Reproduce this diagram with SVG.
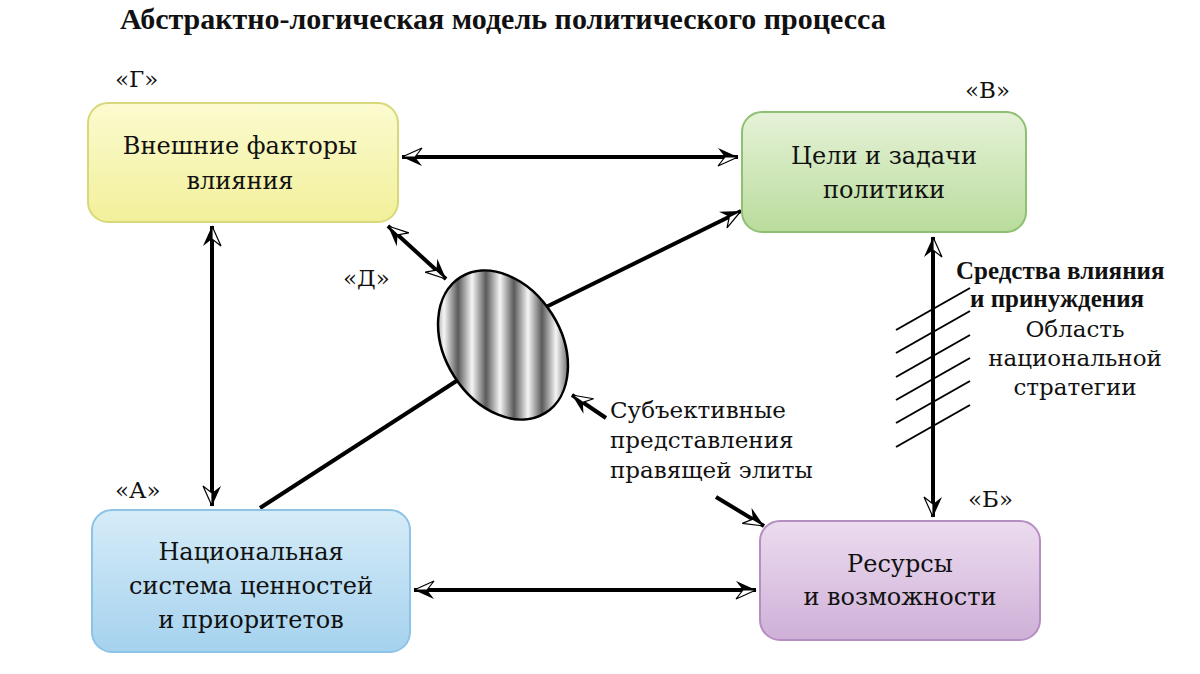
<svg xmlns="http://www.w3.org/2000/svg" width="1200" height="674" viewBox="0 0 1200 674">
<defs>
<style>
text{font-family:'DejaVu Serif','Liberation Serif',serif;fill:#111}
.t{font-size:24px;text-anchor:middle}
.l{font-size:23px}
.c{stroke:#000;stroke-width:4;fill:none}
.h{stroke:#000;stroke-width:2}
</style>
<marker id="a" viewBox="-22 -10 24 20" refX="0" refY="0" markerWidth="24" markerHeight="20" markerUnits="userSpaceOnUse" orient="auto-start-reverse">
<path d="M0,0 L-20,-9 L-13,0 Z" fill="#000"/>
<path d="M0,0 L-20,9 L-13,0 Z" fill="#fff" stroke="#000" stroke-width="1.2"/>
</marker>
<linearGradient id="gy" x1="0" y1="0" x2="0" y2="1"><stop offset="0" stop-color="#fbfbd0"/><stop offset="1" stop-color="#f2f09a"/></linearGradient>
<linearGradient id="gg" x1="0" y1="0" x2="0" y2="1"><stop offset="0" stop-color="#e6f2d8"/><stop offset="1" stop-color="#b9dc9c"/></linearGradient>
<linearGradient id="gb" x1="0" y1="0" x2="0" y2="1"><stop offset="0" stop-color="#d6ecf8"/><stop offset="1" stop-color="#a5d2ee"/></linearGradient>
<linearGradient id="gp" x1="0" y1="0" x2="0" y2="1"><stop offset="0" stop-color="#ecdcef"/><stop offset="1" stop-color="#cfb0d8"/></linearGradient>
<linearGradient id="st" gradientUnits="userSpaceOnUse" x1="430" y1="0" x2="458" y2="0" spreadMethod="repeat">
<stop offset="0" stop-color="#5a5a5a"/><stop offset="0.5" stop-color="#f5f5f5"/><stop offset="1" stop-color="#5a5a5a"/>
</linearGradient>
<clipPath id="ec"><ellipse cx="503" cy="345" rx="80" ry="58" transform="rotate(58 503 345)"/></clipPath>
</defs>
<rect width="1200" height="674" fill="#fff"/>
<text x="120" y="29" font-size="30" font-weight="bold" style="font-family:'Liberation Serif',serif">Абстрактно-логическая модель политического процесса</text>

<g id="connectors">
<line class="c" x1="402" y1="157" x2="738" y2="157" marker-start="url(#a)" marker-end="url(#a)"/>
<line class="c" x1="212" y1="226" x2="212" y2="506" marker-start="url(#a)" marker-end="url(#a)"/>
<line class="c" x1="414" y1="590" x2="756" y2="590" marker-start="url(#a)" marker-end="url(#a)"/>
<line class="c" x1="933" y1="237" x2="933" y2="517" marker-start="url(#a)" marker-end="url(#a)"/>
<line class="c" x1="388" y1="226" x2="446" y2="279" marker-start="url(#a)" marker-end="url(#a)"/>
<line class="c" x1="546" y1="307" x2="741" y2="211" marker-end="url(#a)"/>
<line class="c" x1="260" y1="508" x2="458" y2="380"/>
<line class="c" x1="606" y1="418" x2="572" y2="395" marker-end="url(#a)"/>
<line class="c" x1="716" y1="497" x2="764" y2="526" marker-end="url(#a)"/>
<g class="h">
<line x1="896" y1="330" x2="970" y2="288"/>
<line x1="896" y1="353" x2="970" y2="311"/>
<line x1="896" y1="377" x2="970" y2="335"/>
<line x1="896" y1="400" x2="970" y2="358"/>
<line x1="896" y1="423" x2="970" y2="381"/>
<line x1="896" y1="447" x2="970" y2="405"/>
</g>
</g>

<g id="G">
<rect x="88" y="103" width="310" height="119" rx="20" fill="url(#gy)" stroke="#d8d87a" stroke-width="2"/>
<text class="t" x="240" y="154">Внешние факторы</text>
<text class="t" x="240" y="189">влияния</text>
<text class="l" x="115" y="87">«Г»</text>
</g>
<g id="V">
<rect x="742" y="112" width="284" height="120" rx="20" fill="url(#gg)" stroke="#8ebf72" stroke-width="2"/>
<text class="t" x="884" y="164">Цели и задачи</text>
<text class="t" x="884" y="198">политики</text>
<text class="l" x="965" y="98">«В»</text>
</g>
<g id="A">
<rect x="92" y="510" width="318" height="142" rx="20" fill="url(#gb)" stroke="#8cc3e6" stroke-width="2"/>
<text class="t" x="251" y="560">Национальная</text>
<text class="t" x="251" y="594">система ценностей</text>
<text class="t" x="251" y="628">и приоритетов</text>
<text class="l" x="115" y="498">«А»</text>
</g>
<g id="B">
<rect x="760" y="521" width="280" height="119" rx="20" fill="url(#gp)" stroke="#b68fc2" stroke-width="2"/>
<text class="t" x="900" y="572">Ресурсы</text>
<text class="t" x="900" y="605">и возможности</text>
<text class="l" x="968" y="507">«Б»</text>
</g>
<g id="D">
<rect x="410" y="250" width="190" height="190" fill="url(#st)" clip-path="url(#ec)"/>
<ellipse cx="503" cy="345" rx="80" ry="58" transform="rotate(58 503 345)" fill="none" stroke="#000" stroke-width="2.5"/>
<text class="l" x="343" y="286">«Д»</text>
</g>
<g id="elite">
<text class="l" x="610" y="418">Субъективные</text>
<text class="l" x="610" y="448">представления</text>
<text class="l" x="610" y="478">правящей элиты</text>
</g>
<g id="means">
<text class="l" x="956" y="279" font-weight="bold" style="font-family:'Liberation Serif',serif;font-size:25px">Средства влияния</text>
<text class="l" x="970" y="307" font-weight="bold" style="font-family:'Liberation Serif',serif;font-size:25px">и принуждения</text>
<text class="l" x="1075" y="337" text-anchor="middle">Область</text>
<text class="l" x="1075" y="366" text-anchor="middle">национальной</text>
<text class="l" x="1075" y="395" text-anchor="middle">стратегии</text>
</g>
</svg>
